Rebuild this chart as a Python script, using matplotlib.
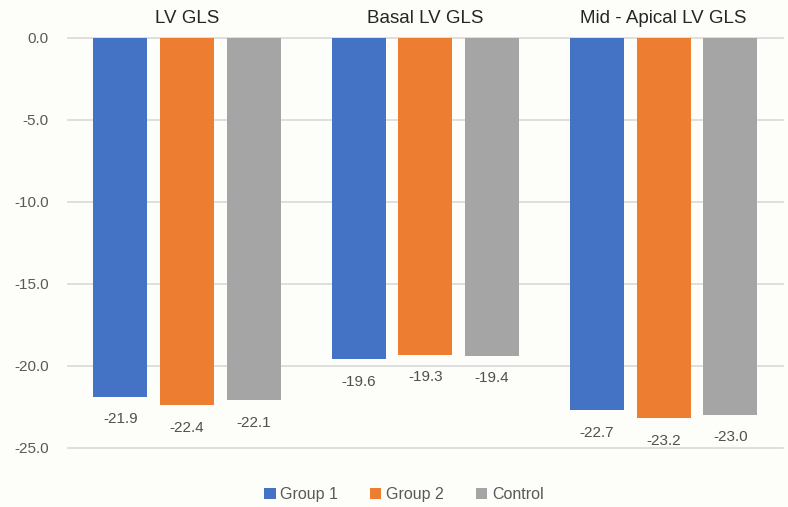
import matplotlib.pyplot as plt
import numpy as np

CATEGORIES = ["LV GLS", "Basal LV GLS", "Mid - Apical LV GLS"]
SERIES = ["Group 1", "Group 2", "Control"]
GROUP1 = [-21.9, -19.6, -22.7]
GROUP2 = [-22.4, -19.3, -23.2]
CONTROL = [-22.1, -19.4, -23.0]
COLORS = ["#4472C4", "#ED7D31", "#A5A5A5"]
YTICKS = [0.0, -5.0, -10.0, -15.0, -20.0, -25.0]


def main() -> None:
    plt.rcParams["font.family"] = ["Liberation Sans", "DejaVu Sans"]
    bg = "#FDFDFA"
    fig = plt.figure(figsize=(7.88, 5.07), dpi=100, facecolor=bg)
    ax = fig.add_axes([0.0863, 0.1164, 0.907, 0.8087], facecolor=bg)

    x = np.arange(len(CATEGORIES))
    width = 0.227
    step = 0.28
    for i, (name, vals, color) in enumerate(zip(SERIES, [GROUP1, GROUP2, CONTROL], COLORS)):
        bars = ax.bar(x + (i - 1) * step, vals, width, color=color, label=name, zorder=2)
        ax.bar_label(bars, labels=[f"{v:.1f}" for v in vals], padding=11,
                     fontsize=11, color="#505050")

    ax.set_xlim(-0.5, len(CATEGORIES) - 0.5)
    ax.set_ylim(-25, 0)
    ax.set_yticks(YTICKS)
    ax.set_yticklabels([f"{t:.1f}" for t in YTICKS], fontsize=11, color="#595959")
    ax.yaxis.grid(True, color="#D9D9D9", linewidth=1.2, zorder=0)
    for gl in ax.get_ygridlines():
        gl.set_clip_on(False)
    ax.tick_params(axis="y", length=0, pad=14)

    ax.xaxis.tick_top()
    ax.set_xticks(x)
    ax.set_xticklabels(CATEGORIES, fontsize=13.5, color="#262626")
    ax.tick_params(axis="x", length=0, pad=8)

    for s in ax.spines.values():
        s.set_visible(False)

    ax.legend(loc="upper center", bbox_to_anchor=(0.47, -0.06), ncol=3, frameon=False,
              fontsize=11.5, handlelength=0.7, handleheight=0.7, handletextpad=0.3,
              columnspacing=2.0, labelcolor="#595959")

    fig.savefig("out.png", dpi=100, facecolor=bg)
    plt.close(fig)


if __name__ == "__main__":
    main()
